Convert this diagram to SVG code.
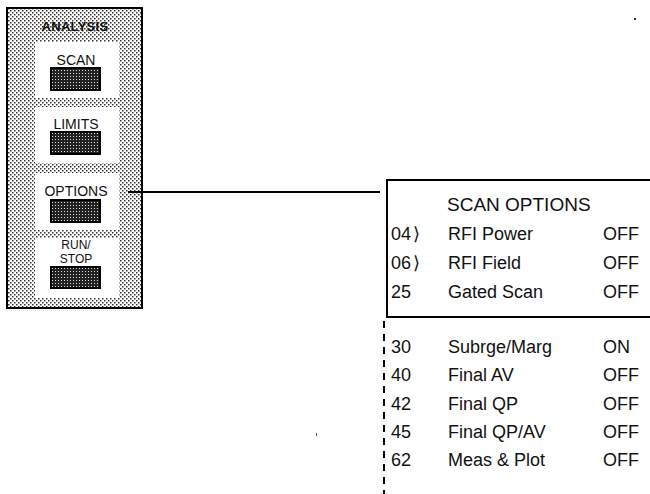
<svg xmlns="http://www.w3.org/2000/svg" width="650" height="494" viewBox="0 0 650 494">
<defs>
  <pattern id="stipple" width="4" height="4" patternUnits="userSpaceOnUse">
    <rect width="4" height="4" fill="#fff"/>
    <rect x="0" y="0" width="1.5" height="1.5" fill="#333"/>
    <rect x="2" y="2" width="1.5" height="1.5" fill="#333"/>
  </pattern>
  <pattern id="hatch" width="3" height="3" patternUnits="userSpaceOnUse">
    <rect width="3" height="3" fill="#222"/>
    <rect x="1" y="1" width="1" height="1" fill="#ddd"/>
  </pattern>
  <style>
    .lbl { font-family: "Liberation Sans", Arial, sans-serif; font-size: 14px; fill: #111; text-anchor: middle; }
    .row { font-family: "Liberation Sans", "DejaVu Sans", Arial, sans-serif; font-size: 18px; fill: #111; }
    .btn { fill: url(#hatch); stroke: #000; stroke-width: 2; }
    .sub { fill: #fff; }
    .ln { stroke: #000; stroke-width: 2; fill: none; }
  </style>
</defs>
<rect width="650" height="494" fill="#fff"/>

<g id="analysis-panel">
  <rect x="7" y="8" width="135" height="300" fill="url(#stipple)" stroke="#000" stroke-width="2"/>
  <text x="75" y="31" class="lbl" style="font-weight:bold;font-size:13px;letter-spacing:0.3px">ANALYSIS</text>
</g>

<g id="scan">
  <rect class="sub" x="35" y="42" width="84" height="56"/>
  <text x="76" y="65" class="lbl">SCAN</text>
  <rect class="btn" x="51" y="68" width="49" height="22"/>
</g>

<g id="limits">
  <rect class="sub" x="35" y="107" width="84" height="56"/>
  <text x="76" y="129" class="lbl">LIMITS</text>
  <rect class="btn" x="51" y="132" width="49" height="22"/>
</g>

<g id="options">
  <rect class="sub" x="35" y="173" width="84" height="57"/>
  <text x="76" y="196" class="lbl">OPTIONS</text>
  <rect class="btn" x="51" y="200" width="49" height="22"/>
</g>

<g id="runstop">
  <rect class="sub" x="35" y="238" width="84" height="60"/>
  <text x="76" y="249" class="lbl" style="font-size:12px">RUN/</text>
  <text x="76" y="263" class="lbl" style="font-size:12px">STOP</text>
  <rect class="btn" x="51" y="267" width="49" height="21"/>
</g>

<g id="connectors">
  <line class="ln" x1="128" y1="192" x2="380" y2="192"/>
</g>

<g id="scan-options-menu">
  <path class="ln" d="M650 180 H387 V317 H650"/>
  <line class="ln" x1="384" y1="321" x2="384" y2="494" stroke-dasharray="7 6"/>
  <text x="447" y="211" class="row" style="font-size:19px">SCAN OPTIONS</text>

  <text x="391" y="240" class="row">04</text><text x="413" y="240" class="row">⟩</text>
  <text x="448" y="240" class="row">RFI Power</text><text x="603" y="240" class="row">OFF</text>

  <text x="391" y="269" class="row">06</text><text x="413" y="269" class="row">⟩</text>
  <text x="448" y="269" class="row">RFI Field</text><text x="603" y="269" class="row">OFF</text>

  <text x="391" y="298" class="row">25</text>
  <text x="448" y="298" class="row">Gated Scan</text><text x="603" y="298" class="row">OFF</text>

  <text x="391" y="353" class="row">30</text>
  <text x="448" y="353" class="row">Subrge/Marg</text><text x="603" y="353" class="row">ON</text>

  <text x="391" y="381" class="row">40</text>
  <text x="448" y="381" class="row">Final AV</text><text x="603" y="381" class="row">OFF</text>

  <text x="391" y="410" class="row">42</text>
  <text x="448" y="410" class="row">Final QP</text><text x="603" y="410" class="row">OFF</text>

  <text x="391" y="438" class="row">45</text>
  <text x="448" y="438" class="row">Final QP/AV</text><text x="603" y="438" class="row">OFF</text>

  <text x="391" y="466" class="row">62</text>
  <text x="448" y="466" class="row">Meas &amp; Plot</text><text x="603" y="466" class="row">OFF</text>
</g>

<rect x="634" y="18" width="2" height="2" fill="#333"/>
<rect x="316" y="433" width="1" height="3" fill="#555"/>
</svg>
